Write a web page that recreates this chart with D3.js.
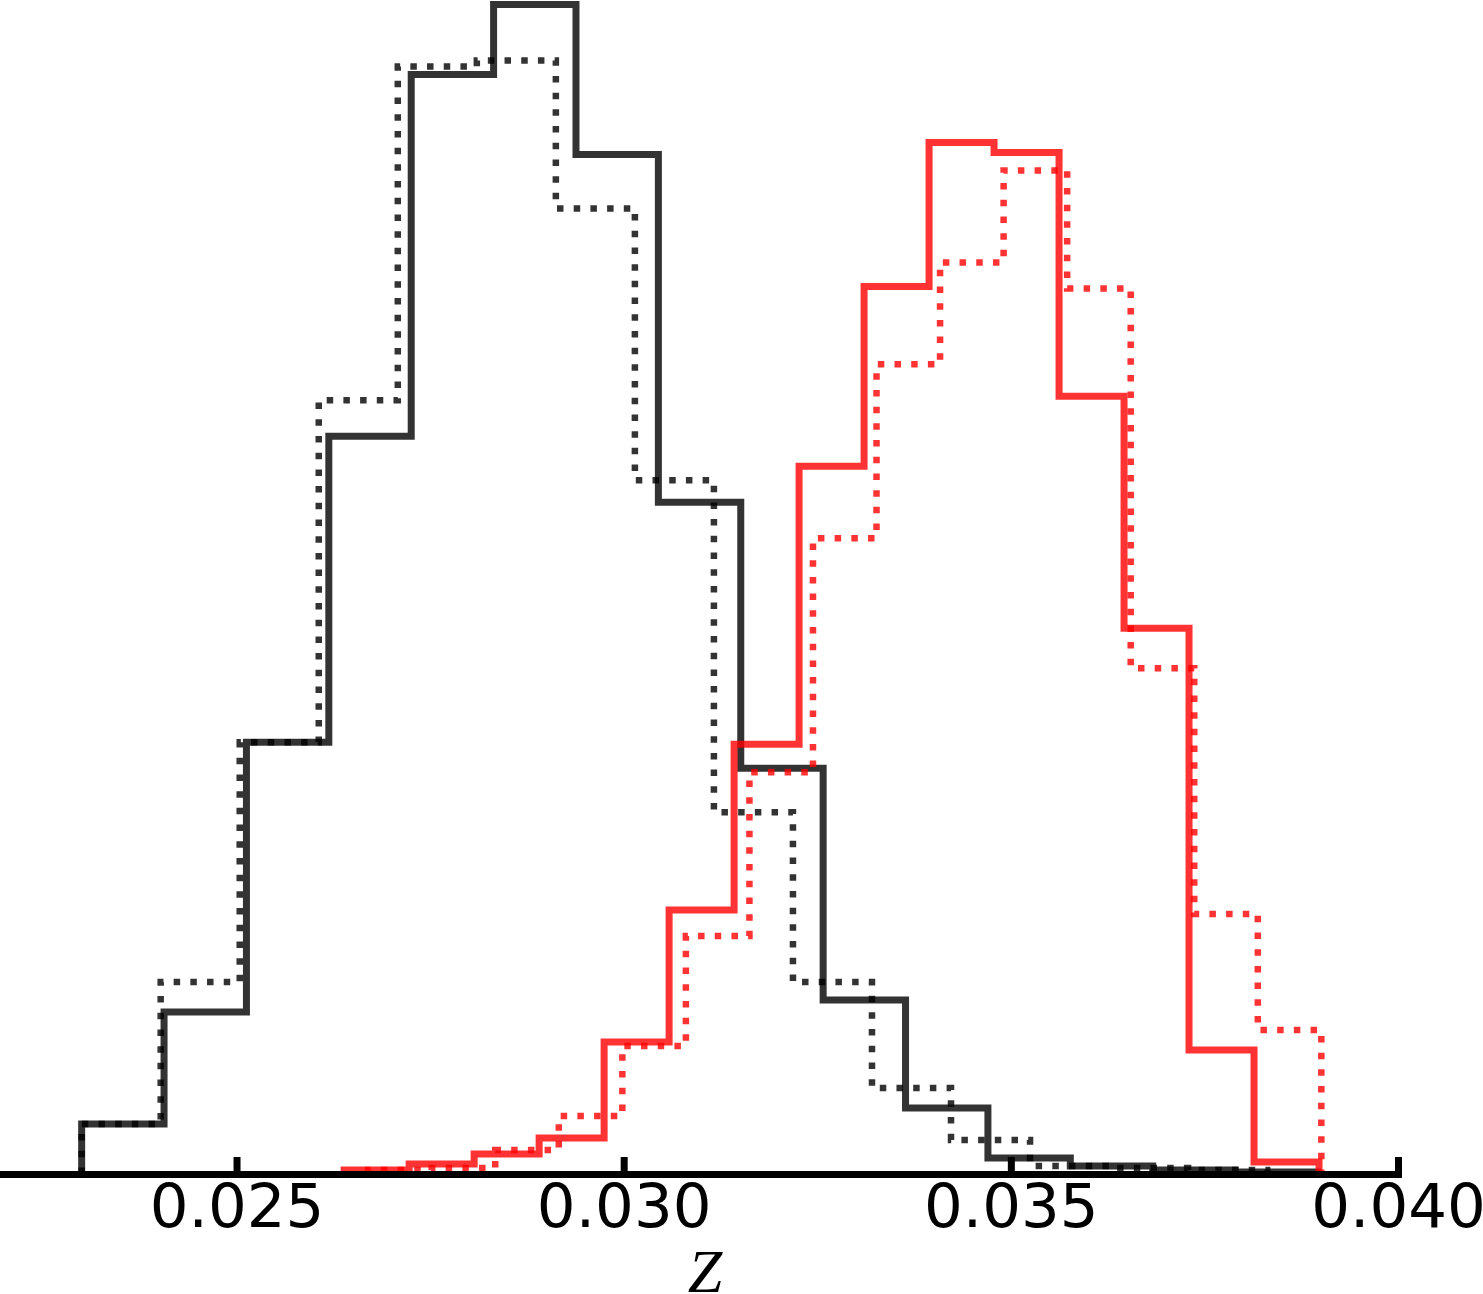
<!DOCTYPE html>
<html>
<head>
<meta charset="utf-8">
<script src="https://cdn.jsdelivr.net/npm/d3@7"></script>
<style>
  body { margin: 0; background: #fff; }
  svg { display: block; }
  .tick text { font-family: "DejaVu Sans", sans-serif; }
</style>
</head>
<body>
<div id="chart"></div>
<script>
// histogram data: bin range [lo, hi] and counts per bin (15 equal bins)
const blackSolidRange = [0.02300, 0.03896];
const blackSolidCounts = [25, 81, 216, 369, 550, 585, 510, 336, 203, 87, 33, 8, 4, 2, 1];

const blackDottedRange = [0.02300, 0.03831];
const blackDottedCounts = [25, 96, 216, 387, 554, 557, 483, 347, 181, 96, 43, 17, 4, 3, 2];

const redSolidRange = [0.02639, 0.03898];
const redSolidCounts = [2, 5, 10, 18, 66, 132, 215, 354, 444, 516, 511, 389, 273, 62, 6];

const redDottedRange = [0.02670, 0.03901];
const redDottedCounts = [2, 3, 12, 29, 64, 119, 201, 318, 405, 456, 502, 443, 253, 130, 72];

const xTicks = [0.025, 0.030, 0.035, 0.040];
const xLabel = "Z";

const width = 1483;
const height = 1294;
const baseY = 1174;

const svg = d3
  .select("#chart")
  .append("svg")
  .attr("width", width)
  .attr("height", height);

const x = d3.scaleLinear().domain([0.0217, 0.040]).range([-19, 1398]);
const y = d3.scaleLinear().domain([0, 585]).range([baseY, 4.5]);

function stepPoints(range, counts) {
  const n = counts.length;
  const w = (range[1] - range[0]) / n;
  const pts = [[range[0], 0]];
  counts.forEach((c, i) => {
    pts.push([range[0] + i * w, c]);
    pts.push([range[0] + (i + 1) * w, c]);
  });
  pts.push([range[1], 0]);
  return pts;
}

const line = d3
  .line()
  .x((d) => x(d[0]))
  .y((d) => y(d[1]));

const series = [
  { range: blackSolidRange, counts: blackSolidCounts, color: "black", dotted: false },
  { range: blackDottedRange, counts: blackDottedCounts, color: "black", dotted: true },
  { range: redSolidRange, counts: redSolidCounts, color: "red", dotted: false },
  { range: redDottedRange, counts: redDottedCounts, color: "red", dotted: true },
];

series.forEach((s) => {
  svg
    .append("path")
    .attr("d", line(stepPoints(s.range, s.counts)))
    .attr("fill", "none")
    .attr("stroke", s.color)
    .attr("stroke-opacity", 0.8)
    .attr("stroke-width", s.dotted ? 6.5 : 7)
    .attr("stroke-dasharray", s.dotted ? "6.5 10.2" : null)
    .attr("stroke-linejoin", "miter");
});

// x axis (bottom spine only, ticks pointing in)
const axis = svg
  .append("g")
  .attr("transform", `translate(0,${baseY})`)
  .call(
    d3
      .axisBottom(x)
      .tickValues(xTicks)
      .tickFormat(d3.format(".3f"))
      .tickSizeInner(-17)
      .tickSizeOuter(0)
  );

axis.select(".domain")
  .attr("stroke", "black")
  .attr("stroke-width", 7)
  .attr("stroke-linecap", "square");

axis.selectAll(".tick line")
  .attr("stroke", "black")
  .attr("stroke-width", 7);

axis.selectAll(".tick text")
  .attr("y", 53)
  .attr("dy", 0)
  .attr("fill", "black")
  .style("font-size", "61px");

svg
  .append("text")
  .attr("x", 705)
  .attr("y", 1292)
  .attr("text-anchor", "middle")
  .style("font-family", "'Liberation Serif', serif")
  .style("font-style", "italic")
  .style("font-size", "62px")
  .text(xLabel);
</script>
</body>
</html>
